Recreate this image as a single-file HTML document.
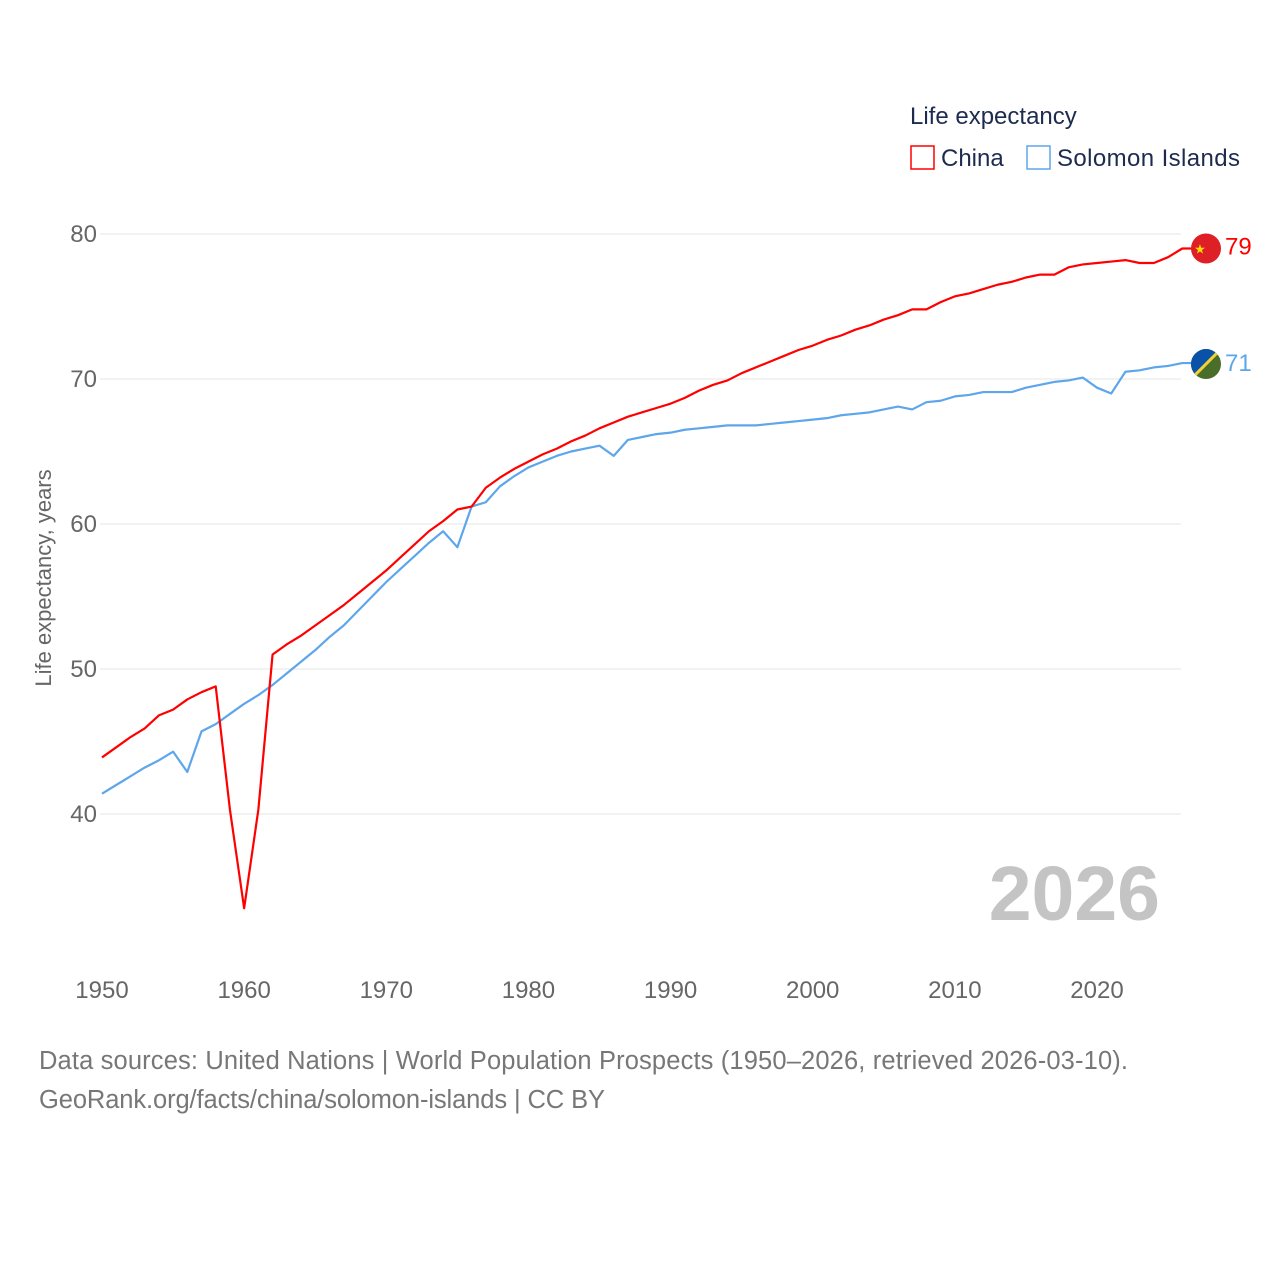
<!DOCTYPE html>
<html><head><meta charset="utf-8"><style>
body{margin:0;background:#fff;font-family:"Liberation Sans",sans-serif;}
svg text{font-family:"Liberation Sans",sans-serif;}
</style></head><body>
<svg id="chart" width="1280" height="1280" viewBox="0 0 1280 1280">
<text x="910" y="124" font-size="24" fill="#1d2b4f">Life expectancy</text>
<g><rect x="911" y="146" width="23" height="23" fill="none" stroke="#ff0000" stroke-width="1.5"/><text x="941" y="166" font-size="24" fill="#1d2b4f">China</text></g>
<g><rect x="1027" y="146" width="23" height="23" fill="none" stroke="#5ea6ec" stroke-width="1.5"/><text x="1057" y="166" font-size="24" fill="#1d2b4f" textLength="183">Solomon Islands</text></g>
<g id="grid"></g>
<g id="yticks"></g>
<g id="xticks"></g>
<text transform="translate(51,578) rotate(-90)" text-anchor="middle" font-size="22" fill="#666">Life expectancy, years</text>
<text x="1160" y="920" text-anchor="end" font-size="77" font-weight="bold" fill="#c4c4c4">2026</text>
<g id="series"></g>
<text x="39" y="1069" font-size="25.5" fill="#777" textLength="1089">Data sources: United Nations | World Population Prospects (1950–2026, retrieved 2026-03-10).</text>
<text x="39" y="1108" font-size="25.5" fill="#777" textLength="566">GeoRank.org/facts/china/solomon-islands | CC BY</text>
</svg>
<script>
const years = [];
for (let y = 1950; y <= 2026; y++) years.push(y);
const chinaValues = [43.9,44.6,45.3,45.9,46.8,47.2,47.9,48.4,48.8,40.3,33.5,40.3,51.0,51.7,52.3,53.0,53.7,54.4,55.2,56.0,56.8,57.7,58.6,59.5,60.2,61.0,61.2,62.5,63.2,63.8,64.3,64.8,65.2,65.7,66.1,66.6,67.0,67.4,67.7,68.0,68.3,68.7,69.2,69.6,69.9,70.4,70.8,71.2,71.6,72.0,72.3,72.7,73.0,73.4,73.7,74.1,74.4,74.8,74.8,75.3,75.7,75.9,76.2,76.5,76.7,77.0,77.2,77.2,77.7,77.9,78.0,78.1,78.2,78.0,78.0,78.4,79.0];
const solomonValues = [41.4,42.0,42.6,43.2,43.7,44.3,42.9,45.7,46.2,46.9,47.6,48.2,48.9,49.7,50.5,51.3,52.2,53.0,54.0,55.0,56.0,56.9,57.8,58.7,59.5,58.4,61.2,61.5,62.6,63.3,63.9,64.3,64.7,65.0,65.2,65.4,64.7,65.8,66.0,66.2,66.3,66.5,66.6,66.7,66.8,66.8,66.8,66.9,67.0,67.1,67.2,67.3,67.5,67.6,67.7,67.9,68.1,67.9,68.4,68.5,68.8,68.9,69.1,69.1,69.1,69.4,69.6,69.8,69.9,70.1,69.4,69.0,70.5,70.6,70.8,70.9,71.1];
const yTicks = [40,50,60,70,80];
const xTicks = [1950,1960,1970,1980,1990,2000,2010,2020];
const NS = "http://www.w3.org/2000/svg";
const xs = y => 102 + (y - 1950) * (995 / 70);
const ys = v => 234 + (80 - v) * 14.5;
function mk(tag, attrs, parent){const e=document.createElementNS(NS,tag);for(const k in attrs)e.setAttribute(k,attrs[k]);parent.appendChild(e);return e;}
const grid=document.getElementById('grid'),yt=document.getElementById('yticks'),xt=document.getElementById('xticks'),ser=document.getElementById('series');
yTicks.forEach(v=>{
  const l=mk('line',{x1:100,x2:1181,y1:ys(v),y2:ys(v),stroke:'#e6e6e6','stroke-width':1},grid);
  
  
  const t=mk('text',{x:97,y:ys(v)+8,'text-anchor':'end','font-size':24,fill:'#666'},yt);
  t.textContent=v;
  
  
});
xTicks.forEach(v=>{
  const t=mk('text',{x:xs(v),y:998,'text-anchor':'middle','font-size':24,fill:'#666'},xt);
  t.textContent=v;
  
  
});
function line(vals,color,name){
  const pts=vals.map((v,i)=>xs(years[i])+','+ys(v));
  pts.push('1192,'+ys(vals[vals.length-1]));
  const p=mk('polyline',{points:pts.join(' '),fill:'none',stroke:color,'stroke-width':2.2,'stroke-linejoin':'round'},ser);
  
  
}
line(solomonValues,'#5ea6ec','line-solomon-islands');
line(chinaValues,'#ff0000','line-china');
const lastC=chinaValues[chinaValues.length-1], lastS=solomonValues[solomonValues.length-1];
const gc=mk('g',{},ser);


mk('circle',{cx:1206,cy:ys(lastC),r:15,fill:'#de1f26'},gc);
mk('text',{x:1200,y:ys(lastC)+5,'text-anchor':'middle','font-size':13,fill:'#ffde00'},gc).textContent='★';
const lc=mk('text',{x:1225,y:ys(lastC)+6,'font-size':24,fill:'#ff0000'},ser);
lc.textContent=Math.round(lastC);


const gs=mk('g',{},ser);


const cy=ys(lastS)+1;
mk('clipPath',{id:'cc'},gs);
mk('circle',{cx:1206,cy:cy,r:15},gs.lastChild);
mk('rect',{x:1191,y:cy-15,width:30,height:30,fill:'#4a6e2a','clip-path':'url(#cc)'},gs);
mk('polygon',{points:`1191,${cy-15} 1221,${cy-15} 1191,${cy+15}`,fill:'#0a51a8','clip-path':'url(#cc)'},gs);
mk('line',{x1:1221,y1:cy-15,x2:1191,y2:cy+15,stroke:'#f2d234','stroke-width':3,'clip-path':'url(#cc)'},gs);
const ls=mk('text',{x:1225,y:ys(lastS)+8,'font-size':24,fill:'#5ea6ec'},ser);
ls.textContent=Math.round(lastS);


</script>
</body></html>
